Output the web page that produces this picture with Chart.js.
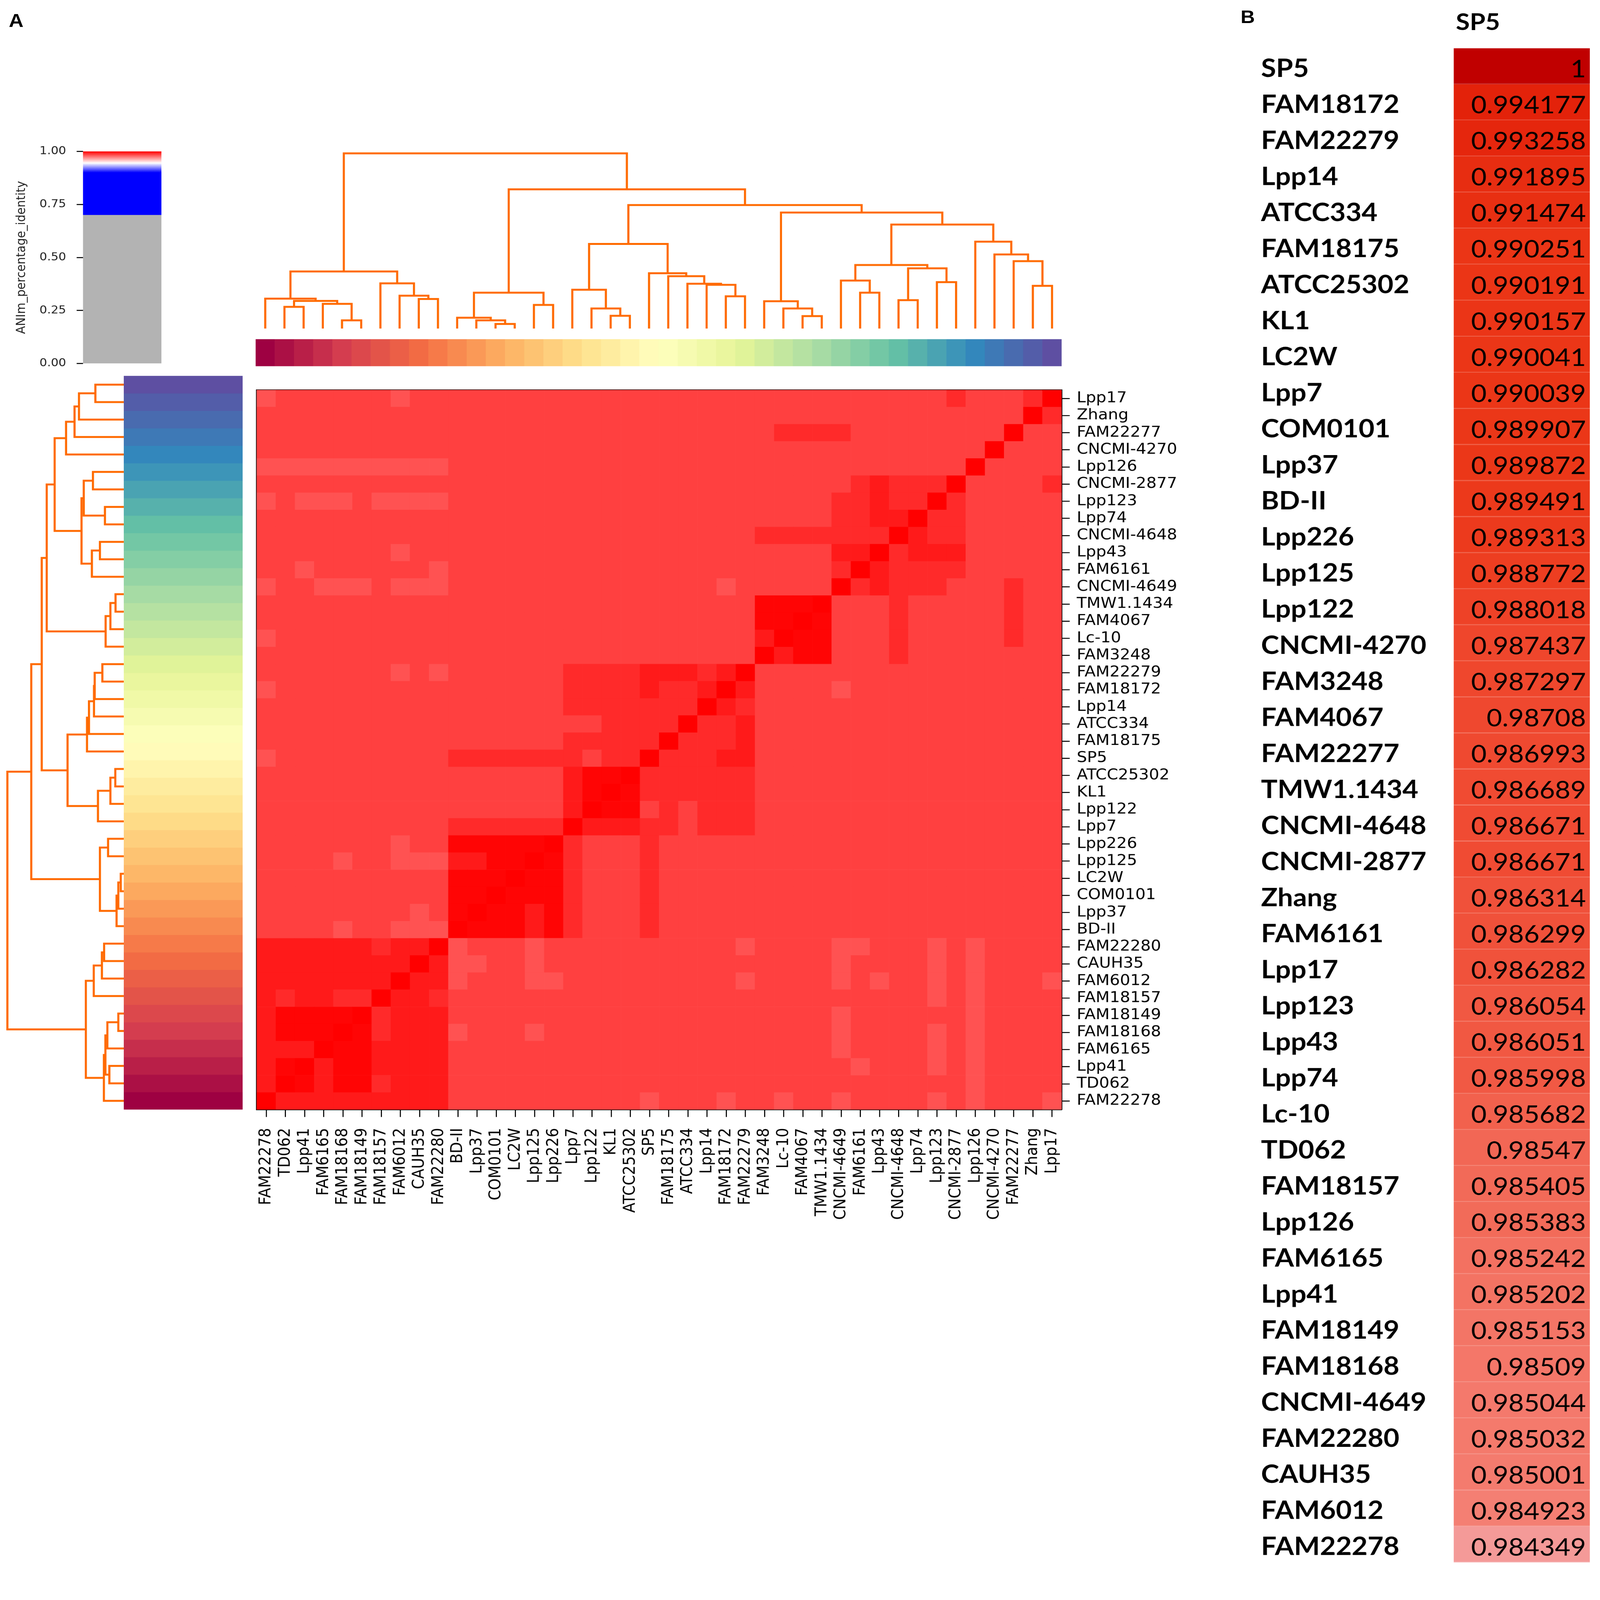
<!DOCTYPE html>
<html>
<head>
<meta charset="utf-8">
<title>ANIm percentage identity - SP5</title>
<script src="https://cdn.jsdelivr.net/npm/chart.js@4.4.1/dist/chart.umd.min.js"></script>
<style>
  html, body { margin: 0; padding: 0; background: #fff; overflow: hidden; }
  #page { position: absolute; left: 0; top: 0; width: 4550px; height: 4972px; transform-origin: 0 0; background: #fff; }
  canvas { position: absolute; }
  .lbl { position: absolute; color: #000; line-height: 1; white-space: nowrap; }
</style>
</head>
<body>
<div id="page">
  <div class="lbl" style="left:25px;top:30px;font:bold 58px 'Liberation Sans'">A</div>
  <div class="lbl" style="left:3528px;top:20px;font:bold 56px 'Liberation Sans'">B</div>
  <div class="lbl" style="left:4140px;top:22px;font:bold 72px Lato">SP5</div>
</div>
<script>
// genomes in clustering order (heatmap columns left to right, rows bottom to top)
const colNames = ['FAM22278', 'TD062', 'Lpp41', 'FAM6165', 'FAM18168', 'FAM18149', 'FAM18157', 'FAM6012',
  'CAUH35', 'FAM22280', 'BD-II', 'Lpp37', 'COM0101', 'LC2W', 'Lpp125', 'Lpp226', 'Lpp7', 'Lpp122', 'KL1',
  'ATCC25302', 'SP5', 'FAM18175', 'ATCC334', 'Lpp14', 'FAM18172', 'FAM22279', 'FAM3248', 'Lc-10', 'FAM4067',
  'TMW1.1434', 'CNCMI-4649', 'FAM6161', 'Lpp43', 'CNCMI-4648', 'Lpp74', 'Lpp123', 'CNCMI-2877', 'Lpp126',
  'CNCMI-4270', 'FAM22277', 'Zhang', 'Lpp17'];

const aniRows = [
  '9444444444 2222222222 1222122122 1222212122 21',
  '4954553444 2222222222 2222222222 2222222122 22',
  '4594554444 2222222222 2222222222 2122212122 22',
  '4449554444 2222222222 2222222222 1222212122 22',
  '4555953444 1222122222 2222222222 1222212122 22',
  '4555593444 2222222222 2222222222 1222222122 22',
  '4344339443 2222222222 2222222222 2222212122 22',
  '4444444944 1222112222 2222212222 1212212122 21',
  '4444444494 1122122222 2222222222 1222212122 22',
  '4444443449 1222122222 2222212222 1122212122 22',
  '2222122111 9555453222 3222222222 2222222222 22',
  '2222222212 5955453222 3222222222 2222222222 22',
  '2222222222 5595553222 3222222222 2222222222 22',
  '2222222222 5559553222 3222222222 2222222222 22',
  '2222122111 4455953222 3222222222 2222222222 22',
  '2222222122 5555593222 3222222222 2222222222 22',
  '2222222222 3333339444 3323332222 2222222222 22',
  '2222222222 2222224955 2323332222 2222222222 22',
  '2222222222 2222224595 3333332222 2222222222 22',
  '2222222222 2222224559 3333332222 2222222222 22',
  '1222222222 3333333233 9333442222 2222222222 22',
  '2222222222 2222223333 3933342222 2222222222 22',
  '2222222222 2222222233 3393342222 2222222222 22',
  '2222222222 2222223333 3339432222 2222222222 22',
  '1222222222 2222223333 4334942222 1222222222 22',
  '2222222121 2222223333 4443492222 2222222222 22',
  '2222222222 2222222222 2222229455 2223222222 22',
  '1222222222 2222222222 2222224955 2223222223 22',
  '2222222222 2222222222 2222225595 2223222223 22',
  '2222222222 2222222222 2222225559 2223222223 22',
  '1221112111 2222222222 2222122222 9343332223 22',
  '2212222221 2222222222 2222222222 3943333222 22',
  '2222222122 2222222222 2222222222 4493444222 22',
  '2222222222 2222222222 2222223333 3339433222 22',
  '2222222222 2222222222 2222222222 3344933222 22',
  '1211121111 2222222222 2222222222 3343393222 22',
  '2222222222 2222222222 2222222222 2343339222 23',
  '1111111111 2222222222 2222222222 2222222922 22',
  '2222222222 2222222222 2222222222 2222222292 22',
  '2222222222 2222222222 2222222333 3222222229 22',
  '2222222222 2222222222 2222222222 2222222222 93',
  '1222222122 2222222222 2222222222 2222223222 39'
].map(s => s.replace(/ /g, ''));

// identity value estimated for each class
const classAni = { '1': 0.9823, '2': 0.9862, '3': 0.9909, '4': 0.9944, '5': 0.9990, '9': 1.0 };

// dendrogram merges: [child a, child b, height]; children >= 42 are earlier merges
const linkage = [
  [4, 5, 4.7], [3, 42, 14.1], [1, 2, 12.4], [44, 43, 15.8], [0, 45, 17.1],
  [8, 9, 16.9], [7, 47, 18.8], [6, 48, 25.8], [46, 49, 32.6], [12, 13, 2.6],
  [11, 51, 4.7], [10, 52, 6.2], [14, 15, 13.5], [53, 54, 20.5], [18, 19, 7.3],
  [17, 56, 11.5], [16, 57, 22.2], [24, 25, 18.4], [23, 59, 25.0], [22, 60, 25.6],
  [21, 61, 29.9], [20, 62, 31.6], [58, 63, 48.3], [28, 29, 7.1], [27, 65, 11.5],
  [26, 66, 15.6], [31, 32, 20.5], [30, 68, 27.4], [33, 34, 16.2], [35, 36, 26.5],
  [70, 71, 34.4], [69, 72, 36.3], [40, 41, 24.4], [39, 74, 38.5], [38, 75, 42.3],
  [37, 76, 49.6], [73, 77, 59.4], [67, 78, 66.2], [64, 79, 70.5], [55, 80, 79.5],
  [50, 81, 100]
];

const keyTicks = [0, 0.25, 0.5, 0.75, 1];

// panel B: identity of every genome against SP5
const tableNames = ['SP5', 'FAM18172', 'FAM22279', 'Lpp14', 'ATCC334', 'FAM18175', 'ATCC25302', 'KL1', 'LC2W',
  'Lpp7', 'COM0101', 'Lpp37', 'BD-II', 'Lpp226', 'Lpp125', 'Lpp122', 'CNCMI-4270', 'FAM3248', 'FAM4067',
  'FAM22277', 'TMW1.1434', 'CNCMI-4648', 'CNCMI-2877', 'Zhang', 'FAM6161', 'Lpp17', 'Lpp123', 'Lpp43', 'Lpp74',
  'Lc-10', 'TD062', 'FAM18157', 'Lpp126', 'FAM6165', 'Lpp41', 'FAM18149', 'FAM18168', 'CNCMI-4649', 'FAM22280',
  'CAUH35', 'FAM6012', 'FAM22278'];
const tableValues = [1, 0.994177, 0.993258, 0.991895, 0.991474, 0.990251, 0.990191, 0.990157, 0.990041,
  0.990039, 0.989907, 0.989872, 0.989491, 0.989313, 0.988772, 0.988018, 0.987437, 0.987297, 0.98708,
  0.986993, 0.986689, 0.986671, 0.986671, 0.986314, 0.986299, 0.986282, 0.986054, 0.986051, 0.985998,
  0.985682, 0.98547, 0.985405, 0.985383, 0.985242, 0.985202, 0.985153, 0.98509, 0.985044, 0.985032,
  0.985001, 0.984923, 0.984349];

// colour ramps
const animStops = [[0, '#b3b3b3'], [0.7, '#b3b3b3'], [0.7, '#0000ff'], [0.9, '#0000ff'], [0.945, '#ffffff'], [1, '#ff0000']];
const spectralStops = ['#9e0142', '#d53e4f', '#f46d43', '#fdae61', '#fee08b', '#ffffbf', '#e6f598', '#abdda4',
  '#66c2a5', '#3288bd', '#5e4fa2'].map((c, i) => [i / 10, c]);
const tableStops = [[0.98435, '#f49a98'], [0.985, '#f47b6e'], [0.9855, '#f26653'], [0.9865, '#f04c34'],
  [0.99, '#eb3617'], [0.9942, '#e3220a'], [1, '#c00000']];
const dendroColor = '#ff6a00';

// the layout is drawn on a 4550 x 4972 sheet, fitted to the window
const page = document.getElementById('page');
const fitX = document.documentElement.clientWidth / 4550;
const fitY = document.documentElement.clientHeight / 4972;
page.style.transform = `scale(${fitX}, ${fitY})`;

function hexRgb(h) {
  return [1, 3, 5].map(i => parseInt(h.substr(i, 2), 16));
}

function ramp(stops, v, whiten) {
  let rgb = hexRgb(stops[stops.length - 1][1]);
  if (v <= stops[0][0]) rgb = hexRgb(stops[0][1]);
  else {
    for (let i = 1; i < stops.length; i++) {
      if (v <= stops[i][0]) {
        const p0 = stops[i - 1][0], p1 = stops[i][0];
        const t = p1 === p0 ? 1 : (v - p0) / (p1 - p0);
        const a = hexRgb(stops[i - 1][1]), b = hexRgb(stops[i][1]);
        rgb = a.map((x, k) => x + (b[k] - x) * t);
        break;
      }
    }
  }
  if (whiten) rgb = rgb.map(x => x + (255 - x) * whiten);
  return `rgb(${rgb.map(Math.round).join(',')})`;
}

function place(left, top, w, h) {
  const c = document.createElement('canvas');
  c.width = w; c.height = h;
  c.style.left = left + 'px'; c.style.top = top + 'px';
  c.style.width = w + 'px'; c.style.height = h + 'px';
  page.appendChild(c);
  return c;
}

// U-shaped links of the tree, as [leaf position, height] corners
function dendroLinks() {
  const pos = [], hgt = [];
  colNames.forEach((n, i) => { pos[i] = i + 0.5; hgt[i] = 0; });
  return linkage.map(([a, b, h], k) => {
    pos[42 + k] = (pos[a] + pos[b]) / 2;
    hgt[42 + k] = h;
    return [[pos[a], hgt[a]], [pos[a], h], [pos[b], h], [pos[b], hgt[b]]];
  });
}

Chart.defaults.font.family = 'DejaVu Sans';
Chart.defaults.color = '#111';
Chart.defaults.animation = false;
Chart.defaults.responsive = false;
Chart.defaults.devicePixelRatio = 1;
Chart.defaults.plugins.legend.display = false;
Chart.defaults.plugins.tooltip.enabled = false;

const hidden = { display: false };
const links = dendroLinks();

// colour key
new Chart(place(0, 420, 459, 760), {
  type: 'bar',
  data: {
    labels: ['key'],
    datasets: [{
      data: [[0, 1]],
      barPercentage: 1, categoryPercentage: 1,
      backgroundColor: ctx => {
        const a = ctx.chart.chartArea;
        if (!a) return '#b3b3b3';
        const g = ctx.chart.ctx.createLinearGradient(0, a.bottom, 0, a.top);
        animStops.forEach(([p, c]) => g.addColorStop(p, c));
        return g;
      }
    }]
  },
  options: {
    layout: { padding: { top: 39, bottom: 43 } },
    scales: {
      x: hidden,
      y: {
        min: 0, max: 1,
        afterBuildTicks: s => { s.ticks = keyTicks.map(v => ({ value: v })); },
        afterFit: s => { s.width = 236; },
        ticks: { padding: 30, color: '#222', font: { size: 34 }, callback: v => v.toFixed(2) },
        grid: { drawOnChartArea: false, tickLength: 18, tickWidth: 3, tickColor: '#000' },
        border: { display: false },
        title: { display: true, text: 'ANIm_percentage_identity', color: '#222', font: { size: 36 }, padding: { top: 40, bottom: 0 } }
      }
    }
  }
});

// top dendrogram
new Chart(place(727, 460, 2292, 570), {
  type: 'scatter',
  data: {
    datasets: links.map(pts => ({
      data: pts.map(([p, h]) => ({ x: p, y: h })),
      showLine: true, borderColor: dendroColor, borderWidth: 6, pointRadius: 0, clip: false
    }))
  },
  options: {
    layout: { padding: { top: 16.6, bottom: 9 } },
    scales: {
      x: { type: 'linear', min: 0, max: 42, display: false },
      y: { min: 0, max: 100, display: false }
    }
  }
});

// left dendrogram
new Chart(place(0, 1168, 360, 2280), {
  type: 'scatter',
  data: {
    datasets: links.map(pts => ({
      data: pts.map(([p, h]) => ({ x: h, y: p })),
      showLine: true, borderColor: dendroColor, borderWidth: 6, pointRadius: 0, clip: false
    }))
  },
  options: {
    layout: { padding: { left: 21, right: 8 } },
    scales: {
      x: { type: 'linear', min: 0, max: 100, reverse: true, display: false },
      y: { min: 0, max: 42, display: false }
    }
  }
});

// genome colour strips
const stripColors = colNames.map((n, i) => ramp(spectralStops, i / 41));
new Chart(place(727, 1054, 2292, 84), {
  type: 'bar',
  data: { labels: colNames, datasets: [{ data: colNames.map(() => 1), backgroundColor: stripColors, barPercentage: 1, categoryPercentage: 1 }] },
  options: { scales: { x: hidden, y: { min: 0, max: 1, display: false } } }
});
new Chart(place(352, 1168, 338, 2280), {
  type: 'bar',
  data: { labels: colNames, datasets: [{ data: colNames.map(() => 1), backgroundColor: stripColors, barPercentage: 1, categoryPercentage: 1 }] },
  options: { indexAxis: 'y', scales: { y: { reverse: true, display: false }, x: { min: 0, max: 1, display: false } } }
});

// heatmap: one stacked dataset per genome row, one bar per column
const labelFont = { family: 'DejaVu Sans', size: 46 };
const frame = { display: true, color: '#000', width: 3 };
new Chart(place(723, 1164, 2716, 2624), {
  type: 'bar',
  data: {
    labels: colNames,
    datasets: colNames.map((rowName, r) => ({
      label: rowName,
      data: colNames.map(() => 1),
      backgroundColor: colNames.map((c, j) => ramp(animStops, classAni[aniRows[r][j]])),
      barPercentage: 1, categoryPercentage: 1, borderWidth: 0
    }))
  },
  options: {
    layout: { padding: { left: 4, top: 4 } },
    scales: {
      x: {
        stacked: true, position: 'bottom',
        afterFit: s => { s.height = 340; },
        ticks: { autoSkip: false, minRotation: 90, maxRotation: 90, padding: 34, color: '#000', font: labelFont },
        grid: { drawOnChartArea: false, offset: false, tickLength: 23, tickWidth: 3, tickColor: '#000' },
        border: frame
      },
      y: {
        stacked: true, position: 'right', min: 0, max: 42,
        afterBuildTicks: s => { s.ticks = colNames.map((n, i) => ({ value: i + 0.5 })); },
        afterFit: s => { s.width = 420; },
        ticks: { autoSkip: false, padding: 20, color: '#000', font: labelFont, callback: v => colNames[Math.floor(v)] },
        grid: { drawOnChartArea: false, tickLength: 23, tickWidth: 3, tickColor: '#000' },
        border: frame
      },
      xTop: { type: 'linear', position: 'top', ticks: hidden, grid: hidden, border: frame, afterFit: s => { s.height = 0; } },
      yLeft: { type: 'linear', position: 'left', ticks: hidden, grid: hidden, border: frame, afterFit: s => { s.width = 0; } }
    }
  }
});

// panel B table
const cellText = {
  id: 'cellText',
  afterDatasetsDraw(chart) {
    const ctx = chart.ctx;
    ctx.save();
    ctx.font = '76px Lato';
    ctx.fillStyle = '#000';
    ctx.textAlign = 'right';
    ctx.textBaseline = 'middle';
    chart.getDatasetMeta(0).data.forEach((bar, i) => {
      ctx.fillText(String(tableValues[i]), bar.x - 11, bar.y + 10);
    });
    ctx.restore();
  }
};
new Chart(place(3586, 100, 944, 4805), {
  type: 'bar',
  plugins: [cellText],
  data: {
    labels: tableNames,
    datasets: [{
      data: tableNames.map(() => 1),
      backgroundColor: tableValues.map(v => ramp(tableStops, v)),
      borderColor: tableValues.map(v => ramp(tableStops, v, 0.22)),
      borderWidth: { top: 0, left: 0, right: 0, bottom: 3 },
      borderSkipped: false,
      barPercentage: 1, categoryPercentage: 1
    }]
  },
  options: {
    indexAxis: 'y',
    layout: { padding: { top: 12, bottom: 11, right: 9 } },
    scales: {
      x: { min: 0, max: 1, display: false },
      y: {
        afterFit: s => { s.width = 548; },
        ticks: { autoSkip: false, crossAlign: 'far', labelOffset: 8, color: '#000', font: { family: 'Lato', size: 78, weight: 'bold' } },
        grid: hidden,
        border: { display: false }
      }
    }
  }
});
</script>
</body>
</html>
